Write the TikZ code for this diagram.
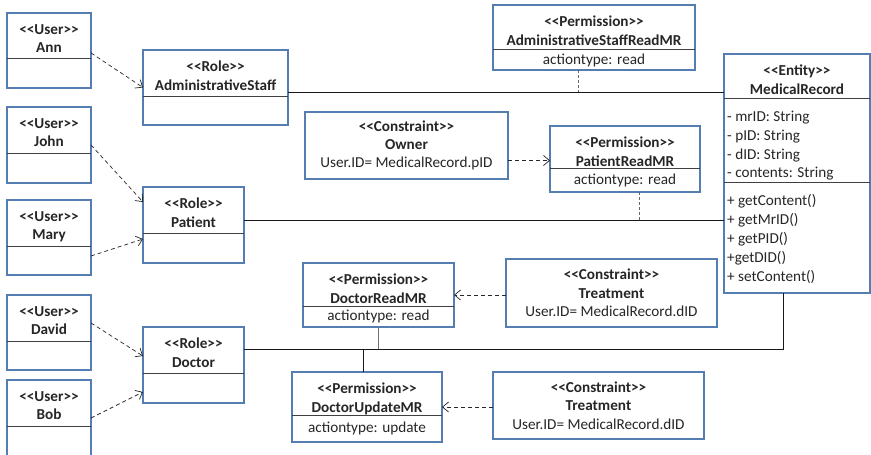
\documentclass[tikz,border=0pt]{standalone}
\usepackage{fontspec}
\setmainfont{Carlito}
\usetikzlibrary{arrows.meta}

\definecolor{boxblue}{RGB}{84,125,178}
\definecolor{inkgray}{RGB}{38,38,38}
\newcommand{\stereo}[1]{<\kern0pt<#1>\kern0pt>}

\begin{document}
\begin{tikzpicture}[x=1pt,y=-1pt,
  every node/.style={font=\fontsize{15.2}{18.3}\selectfont, text=inkgray},
  umlbox/.style={draw=boxblue, line width=1.1pt, fill=white, anchor=north west, inner sep=0pt, outer sep=0pt},
  title/.style={anchor=north, align=center, inner sep=0pt, font=\fontsize{15.2}{18.3}\selectfont\bfseries},
  constraint/.style={umlbox, align=center},
  part/.style={draw=black!75, line width=0.8pt},
  dep/.style={draw=black!85, line width=0.7pt, dash pattern=on 4pt off 3pt, -{Straight Barb[length=6pt,width=10pt]}},
  assoc/.style={draw=black!90, line width=0.8pt},
  member/.style={draw=black!55, line width=1pt},
  attach/.style={draw=black!60, line width=0.8pt, dash pattern=on 3pt off 2pt}]

\path[fill=white, use as bounding box] (0,0) rectangle (871,455);

% Users
\node[umlbox, minimum width=84, minimum height=75] (ann) at (7,13) {};
\node[title] (annname) at ([yshift=-11pt]ann.north) {\stereo{User}\\Ann};
\draw[part] (7,58) -- (91,58);

\node[umlbox, minimum width=84, minimum height=76] (john) at (7,107) {};
\node[title] (johnname) at ([yshift=-11pt]john.north) {\stereo{User}\\John};
\draw[part] (7,153) -- (91,153);

\node[umlbox, minimum width=84, minimum height=75] (mary) at (7,200) {};
\node[title] (maryname) at ([yshift=-11pt]mary.north) {\stereo{User}\\Mary};
\draw[part] (7,246) -- (91,246);

\node[umlbox, minimum width=84, minimum height=75] (david) at (7,295) {};
\node[title] (davidname) at ([yshift=-11pt]david.north) {\stereo{User}\\David};
\draw[part] (7,341) -- (91,341);

\node[umlbox, minimum width=84, minimum height=82] (bob) at (7,380) {};
\node[title] (bobname) at ([yshift=-11pt]bob.north) {\stereo{User}\\Bob};
\draw[part] (7,426) -- (91,426);

% Roles
\node[umlbox, minimum width=145, minimum height=75] (adminstaff) at (143,50) {};
\node[title] (adminstaffname) at ([yshift=-11pt]adminstaff.north) {\stereo{Role}\\AdministrativeStaff};
\draw[part] (143,96) -- (288,96);

\node[umlbox, minimum width=101, minimum height=76] (patient) at (143,187) {};
\node[title] (patientname) at ([yshift=-11pt]patient.north) {\stereo{Role}\\Patient};
\draw[part] (143,233) -- (244,233);

\node[umlbox, minimum width=101, minimum height=76] (doctor) at (143,327) {};
\node[title] (doctorname) at ([yshift=-11pt]doctor.north) {\stereo{Role}\\Doctor};
\draw[part] (143,373) -- (244,373);

% Permissions
\node[umlbox, minimum width=202, minimum height=65] (adminread) at (493,5) {};
\node[title] (adminreadname) at ([yshift=-11pt]adminread.north) {\stereo{Permission}\\AdministrativeStaffReadMR};
\draw[part] (493,49) -- (695,49);
\node (adminreadop) at (594,60) {actiontype: read};

\node[umlbox, minimum width=150, minimum height=66] (patientread) at (550,126) {};
\node[title] (patientreadname) at ([yshift=-11pt]patientread.north) {\stereo{Permission}\\PatientReadMR};
\draw[part] (550,168) -- (700,168);
\node (patientreadop) at (625,180) {actiontype: read};

\node[umlbox, minimum width=151, minimum height=64] (docread) at (303,263) {};
\node[title] (docreadname) at ([yshift=-11pt]docread.north) {\stereo{Permission}\\DoctorReadMR};
\draw[part] (303,306) -- (454,306);
\node (docreadop) at (378.5,316.5) {actiontype: read};

\node[umlbox, minimum width=150, minimum height=70] (docupdate) at (292,372) {};
\node[title] (docupdatename) at ([yshift=-11pt]docupdate.north) {\stereo{Permission}\\DoctorUpdateMR};
\draw[part] (292,415) -- (442,415);
\node (docupdateop) at (367,428.5) {actiontype: update};

% Constraints
\node[constraint, minimum width=203, minimum height=67] (owner) at (305,112)
  {{\bfseries \stereo{Constraint}}\\{\bfseries Owner}\\User.ID= MedicalRecord.pID};
\node[constraint, minimum width=211, minimum height=68] (treat1) at (506,259)
  {{\bfseries \stereo{Constraint}}\\{\bfseries Treatment}\\User.ID= MedicalRecord.dID};
\node[constraint, minimum width=211, minimum height=67] (treat2) at (493,372)
  {{\bfseries \stereo{Constraint}}\\{\bfseries Treatment}\\User.ID= MedicalRecord.dID};

% Entity
\node[umlbox, minimum width=146, minimum height=239] (medrec) at (724,54) {};
\node[title] (medrecname) at ([yshift=-11pt]medrec.north) {\stereo{Entity}\\MedicalRecord};
\draw[part] (724,98) -- (870,98);
\draw[part] (724,182) -- (870,182);
\node[anchor=north west, align=left, inner sep=0pt, font=\fontsize{15.2}{18.7}\selectfont] (medrecattr) at (727,111)
  {- mrID: String\\- pID: String\\- dID: String\\- contents: String};
\node[anchor=north west, align=left, inner sep=0pt, font=\fontsize{15.2}{19}\selectfont] (medrecops) at (727,194.5)
  {+ getContent()\\+ getMrID()\\+ getPID()\\+getDID()\\+ setContent()};

% Associations to the entity
\coordinate (adminline) at ([yshift=-4.5pt]adminstaff.east);
\coordinate (patline) at ([yshift=5pt]patient.east);
\coordinate (docline) at ([yshift=16pt]doctor.east);
\draw[assoc] (adminline) -- (adminline -| medrec.west);
\draw[assoc] (patline) -- (patline -| medrec.west);
\draw[assoc] (docline) -| ([xshift=-14pt]medrec.south);
\draw[attach] ([xshift=-16pt]adminread.south) -- ([xshift=-16pt]adminread.south |- adminline);
\draw[attach] ([xshift=14pt]patientread.south) -- ([xshift=14pt]patientread.south |- patline);
\draw[member] (docread.south) -- (docread.south |- docline);
\draw[assoc] ([xshift=-4pt]docupdate.north) -- ([xshift=-4pt]docupdate.north |- docline);

% Role assignments and constraints
\draw[dep] ([yshift=-2.5pt]ann.east) -- (adminstaff.west);
\draw[dep] (john.east) -- ([yshift=23pt]patient.west);
\draw[dep] ([yshift=-18.5pt]mary.east) -- ([yshift=-14pt]patient.west);
\draw[dep] ([yshift=9.5pt]david.east) -- ([yshift=9pt]doctor.west);
\draw[dep] ([yshift=3pt]bob.east) -- ([yshift=-27pt]doctor.west);
\draw[dep] ([yshift=-15pt]owner.east) -- ([yshift=-15pt]owner.east -| patientread.west);
\draw[dep] ([yshift=-2pt]treat1.west) -- (docread.east);
\draw[dep] (treat2.west |- docupdate.east) -- (docupdate.east);

\end{tikzpicture}
\end{document}
